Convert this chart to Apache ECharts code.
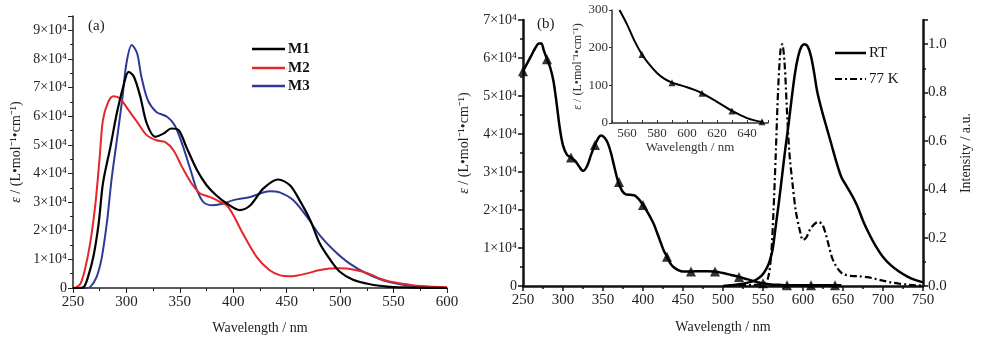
<!DOCTYPE html>
<html>
<head>
<meta charset="utf-8">
<script src="https://cdn.jsdelivr.net/npm/echarts@6/dist/echarts.min.js"></script>
<style>
  html, body { margin: 0; padding: 0; background: #fff; }
  #chart { width: 987px; height: 344px; }
</style>
</head>
<body>
<div id="chart"></div>
<script type="text/javascript">
// (a) absorption, [wavelength nm, epsilon]
var m1 = [[250,0],[255,0],[260,300],[264,3800],[269,10800],[274,22500],[278,36500],[285,49300],[291,61000],[297,70300],[302,75500],[307,73800],[313,66800],[319,57500],[327,52800],[335,54000],[342,55700],[349,55100],[356,49300],[366,41200],[375,35900],[384,32400],[394,29500],[406,27200],[416,28900],[428,34700],[442,37900],[453,35900],[462,30700],[472,23700],[481,15500],[491,9700],[500,5600],[512,2900],[528,1300],[544,500],[560,200],[580,50],[600,0]];
var m2 = [[250,0],[253,200],[257,1500],[261,6200],[266,15500],[271,29500],[275,45800],[278,58600],[283,65000],[288,67000],[294,66200],[302,62100],[310,58000],[319,53400],[328,51600],[336,51000],[344,48100],[352,42300],[361,36500],[369,33000],[378,31800],[388,30000],[394,28800],[400,25500],[409,19000],[422,10800],[434,6200],[444,4400],[452,4100],[460,4400],[470,5200],[480,6200],[490,6800],[500,6900],[506,6800],[514,6300],[522,5600],[530,4500],[537,3300],[545,2400],[553,1800],[569,900],[583,500],[600,300]];
var m3 = [[250,0],[262,0],[266,300],[272,3800],[277,10800],[282,23700],[286,37700],[291,51600],[296,65600],[300,78500],[305,84900],[310,82000],[314,73800],[320,65600],[328,61500],[338,59800],[345,56900],[352,50500],[360,41200],[366,34200],[372,30000],[381,28900],[391,29500],[400,30700],[416,31800],[434,33800],[444,33300],[456,30700],[469,24800],[481,18400],[494,13200],[509,8500],[525,5000],[540,2700],[556,1300],[572,600],[590,200],[600,100]];

// (b) absorption, [wavelength nm, epsilon]
var absB = [[250,56500],[255,58500],[260,60500],[265,62500],[270,63800],[273,63800],[276,62000],[280,59700],[284,57500],[288,54000],[292,48100],[296,41500],[300,37000],[305,34500],[310,33800],[315,33000],[320,31500],[325,30300],[330,31500],[335,34500],[340,37200],[345,39200],[348,39600],[352,39000],[356,37600],[360,35000],[364,31500],[369,27400],[374,25000],[378,24200],[384,24000],[390,23800],[395,22800],[400,21300],[406,19300],[413,16500],[418,13800],[422,11500],[426,9300],[430,7700],[434,6000],[438,5000],[444,4200],[450,3800],[460,3800],[470,3900],[480,3900],[490,3800],[500,3400],[510,2900],[520,2400],[530,1800],[540,1200],[550,700],[560,400],[570,300],[580,200],[600,200],[620,200],[640,200],[648,200]];
var absBMarks = [[250,56500],[280,59700],[310,33800],[340,37100],[370,27400],[400,21300],[430,7700],[460,3800],[490,3800],[520,2400],[550,700],[580,200],[610,200],[640,200]];

// (b) emission, [wavelength nm, normalised intensity]
var rt = [[500,0],[510,0.003],[520,0.007],[530,0.013],[536,0.018],[542,0.027],[548,0.042],[554,0.07],[558,0.1],[562,0.15],[566,0.25],[570,0.35],[574,0.46],[578,0.57],[582,0.67],[586,0.78],[590,0.88],[594,0.95],[598,0.99],[602,1.0],[606,0.99],[610,0.95],[614,0.88],[618,0.8],[624,0.72],[630,0.65],[636,0.58],[642,0.51],[648,0.45],[655,0.41],[662,0.37],[668,0.33],[675,0.27],[682,0.22],[690,0.17],[700,0.12],[710,0.085],[720,0.06],[730,0.04],[740,0.025],[750,0.015]];
var k77 = [[520,0.004],[535,0.004],[550,0.01],[556,0.03],[560,0.12],[563,0.3],[566,0.55],[569,0.82],[572,0.98],[574,1.0],[577,0.92],[580,0.72],[583,0.55],[587,0.42],[591,0.31],[596,0.23],[600,0.19],[604,0.2],[609,0.235],[614,0.255],[619,0.265],[624,0.255],[628,0.22],[632,0.17],[636,0.12],[640,0.09],[645,0.065],[650,0.05],[660,0.042],[670,0.04],[680,0.037],[690,0.03],[700,0.022],[710,0.015],[720,0.01],[730,0.006],[740,0.003],[750,0.002]];

// inset
var inset = [[555,300],[560,262],[565,218],[570,182],[575,155],[580,133],[585,117],[590,107],[595,101],[600,95],[605,88],[610,79],[615,68],[620,56],[625,44],[630,32],[635,22],[640,13],[645,7],[650,3]];
var insetMarks = [[570,182],[590,107],[610,79],[630,32],[650,3]];

var SERIF = 'Liberation Serif';
var epsName = '{i|ε} / (L•mol⁻¹•cm⁻¹)';
var RED = '#e5262b', BLUE = '#2d3a96';
var DASHDOT = [7, 3, 2, 3];

function sciLabel(v) {
    return v === 0 ? '0' : (v / 10000) + '×10⁴';
}

// hand-drawn legend entries: line from x1..x2 at y, label after it
function legendItem(x1, x2, y, text, color, width, dash, bold) {
    return [
        { type: 'line', shape: { x1: x1, y1: y, x2: x2, y2: y }, style: { stroke: color, lineWidth: width, lineDash: dash || null } },
        { type: 'text', x: x2 + 3, y: y, style: { text: text, font: (bold ? 'bold ' : '') + '15px ' + SERIF, fill: '#111', verticalAlign: 'middle' } }
    ];
}

var chart = echarts.init(document.getElementById('chart'));

var axisA = { lineStyle: { color: '#222', width: 1.5 } };
var axisB = { lineStyle: { color: '#111', width: 2.5 } };

var graphics = [
    { type: 'text', left: 88, top: 19, style: { text: '(a)', font: '15px ' + SERIF, fill: '#222' } },
    { type: 'text', left: 537, top: 17, style: { text: '(b)', font: '15px ' + SERIF, fill: '#222' } }
]
    .concat(legendItem(252, 285, 49, 'M1', '#000', 2.5, null, true))
    .concat(legendItem(252, 285, 68, 'M2', RED, 2.5, null, true))
    .concat(legendItem(252, 285, 86, 'M3', BLUE, 2.5, null, true))
    .concat(legendItem(835, 866, 53, 'RT', '#000', 2.5, null, false))
    .concat(legendItem(835, 866, 79, '77 K', '#000', 2.2, DASHDOT, false));

var option = {
    animation: false,
    textStyle: { fontFamily: SERIF },
    grid: [
        { left: 73, top: 16, width: 374, height: 272 },
        { left: 523, top: 20, width: 400, height: 266 },
        { left: 612, top: 10, width: 156, height: 113 }
    ],
    graphic: graphics,
    xAxis: [
        {
            gridIndex: 0, type: 'value', min: 250, max: 600, interval: 50,
            name: 'Wavelength / nm', nameLocation: 'middle', nameGap: 33,
            nameTextStyle: { fontFamily: SERIF, fontSize: 14, color: '#222' },
            axisLine: axisA, axisTick: { length: 5, lineStyle: { color: '#222' } },
            minorTick: { show: true, splitNumber: 2, length: 3, lineStyle: { color: '#222' } },
            splitLine: { show: false },
            axisLabel: { fontFamily: SERIF, fontSize: 15, color: '#222', margin: 7 }
        },
        {
            gridIndex: 1, type: 'value', min: 250, max: 750, interval: 50,
            name: 'Wavelength / nm', nameLocation: 'middle', nameGap: 34,
            nameTextStyle: { fontFamily: SERIF, fontSize: 14, color: '#222' },
            axisLine: axisB, axisTick: { length: 5, lineStyle: { color: '#111', width: 1.5 } },
            minorTick: { show: true, splitNumber: 2, length: 3, lineStyle: { color: '#111', width: 1.5 } },
            splitLine: { show: false },
            axisLabel: { fontFamily: SERIF, fontSize: 15, color: '#222', margin: 7 }
        },
        {
            gridIndex: 2, type: 'value', min: 550, max: 654, interval: 10,
            name: 'Wavelength / nm', nameLocation: 'middle', nameGap: 17,
            nameTextStyle: { fontFamily: SERIF, fontSize: 13, color: '#333' },
            axisLine: { lineStyle: { color: '#333', width: 1.5 } },
            axisTick: { inside: true, length: 3, lineStyle: { color: '#333' } },
            splitLine: { show: false },
            axisLabel: {
                fontFamily: SERIF, fontSize: 13, color: '#333', margin: 4,
                formatter: function (v) { return (v % 20 === 0 && v >= 560 && v <= 640) ? String(v) : ''; }
            }
        }
    ],
    yAxis: [
        {
            gridIndex: 0, type: 'value', min: 0, max: 95000, interval: 10000,
            name: epsName, nameLocation: 'middle', nameGap: 50, nameRotate: 90,
            nameTextStyle: { fontFamily: SERIF, fontSize: 14, color: '#222', rich: { i: { fontStyle: 'italic', fontFamily: SERIF, fontSize: 14 } } },
            axisLine: { show: true, lineStyle: { color: '#222', width: 1.5 } },
            axisTick: { show: true, length: 5, lineStyle: { color: '#222' } },
            minorTick: { show: true, splitNumber: 2, length: 3, lineStyle: { color: '#222' } },
            splitLine: { show: false },
            axisLabel: { fontFamily: SERIF, fontSize: 14, color: '#222', margin: 6, showMaxLabel: false, formatter: sciLabel }
        },
        {
            gridIndex: 1, type: 'value', min: 0, max: 70000, interval: 10000,
            name: epsName, nameLocation: 'middle', nameGap: 52, nameRotate: 90,
            nameTextStyle: { fontFamily: SERIF, fontSize: 14, color: '#222', padding: [0, 0, 0, 20], rich: { i: { fontStyle: 'italic', fontFamily: SERIF, fontSize: 14 } } },
            axisLine: { show: true, lineStyle: { color: '#111', width: 2.5 } },
            axisTick: { show: true, length: 5, lineStyle: { color: '#111', width: 1.5 } },
            minorTick: { show: true, splitNumber: 2, length: 3, lineStyle: { color: '#111', width: 1.5 } },
            splitLine: { show: false },
            axisLabel: { fontFamily: SERIF, fontSize: 14, color: '#222', margin: 6, formatter: sciLabel }
        },
        {
            gridIndex: 1, type: 'value', position: 'right', min: 0, max: 1.1, interval: 0.2,
            name: 'Intensity / a.u.', nameLocation: 'middle', nameGap: 36, nameRotate: 90,
            nameTextStyle: { fontFamily: SERIF, fontSize: 14, color: '#222' },
            axisLine: { show: true, lineStyle: { color: '#111', width: 2.5 } },
            axisTick: { show: true, length: 5, lineStyle: { color: '#111', width: 1.5 } },
            minorTick: { show: true, splitNumber: 2, length: 3, lineStyle: { color: '#111', width: 1.5 } },
            splitLine: { show: false },
            axisLabel: { fontFamily: SERIF, fontSize: 15, color: '#222', margin: 5, showMaxLabel: false, formatter: function (v) { return v.toFixed(1); } }
        },
        {
            gridIndex: 2, type: 'value', min: 0, max: 300, interval: 100,
            name: epsName, nameLocation: 'middle', nameGap: 28, nameRotate: 90,
            nameTextStyle: { fontFamily: SERIF, fontSize: 12, color: '#333', rich: { i: { fontStyle: 'italic', fontFamily: SERIF, fontSize: 12 } } },
            axisLine: { show: true, lineStyle: { color: '#333', width: 1.5 } },
            axisTick: { show: true, length: 3, lineStyle: { color: '#333' } },
            splitLine: { show: false },
            axisLabel: { fontFamily: SERIF, fontSize: 13, color: '#333', margin: 4 }
        }
    ],
    series: [
        { name: 'M1', type: 'line', xAxisIndex: 0, yAxisIndex: 0, data: m1, smooth: 0.3, symbol: 'none', lineStyle: { color: '#000', width: 2.2 }, z: 4 },
        { name: 'M2', type: 'line', xAxisIndex: 0, yAxisIndex: 0, data: m2, smooth: 0.3, symbol: 'none', lineStyle: { color: RED, width: 2 }, z: 3 },
        { name: 'M3', type: 'line', xAxisIndex: 0, yAxisIndex: 0, data: m3, smooth: 0.3, symbol: 'none', lineStyle: { color: BLUE, width: 2 }, z: 2 },
        { name: 'abs', type: 'line', xAxisIndex: 1, yAxisIndex: 1, data: absB, smooth: 0.3, symbol: 'none', lineStyle: { color: '#000', width: 2.5 } },
        { name: 'absMarks', type: 'scatter', xAxisIndex: 1, yAxisIndex: 1, data: absBMarks, symbol: 'triangle', symbolSize: 10, itemStyle: { color: '#000' } },
        { name: 'RT', type: 'line', xAxisIndex: 1, yAxisIndex: 2, data: rt, smooth: 0.3, symbol: 'none', lineStyle: { color: '#000', width: 2.5 } },
        { name: '77 K', type: 'line', xAxisIndex: 1, yAxisIndex: 2, data: k77, smooth: 0.3, symbol: 'none', lineStyle: { color: '#000', width: 2.2, type: DASHDOT } },
        { name: 'inset', type: 'line', xAxisIndex: 2, yAxisIndex: 3, data: inset, smooth: 0.3, symbol: 'none', lineStyle: { color: '#000', width: 2 } },
        { name: 'insetMarks', type: 'scatter', xAxisIndex: 2, yAxisIndex: 3, data: insetMarks, symbol: 'triangle', symbolSize: 7, itemStyle: { color: '#000' } }
    ]
};

chart.setOption(option);
</script>
</body>
</html>
